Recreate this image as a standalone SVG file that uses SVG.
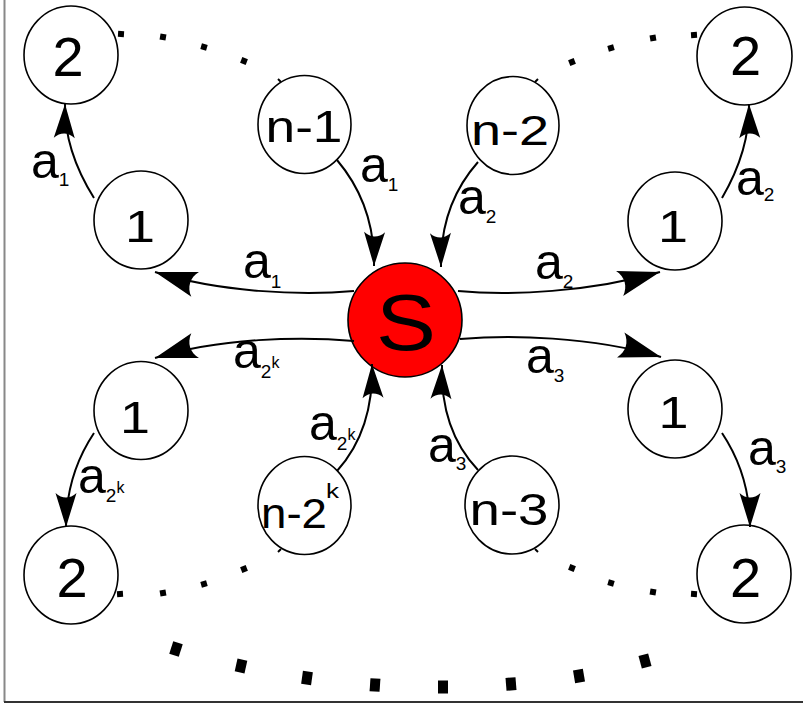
<svg xmlns="http://www.w3.org/2000/svg" width="803" height="706" viewBox="0 0 803 706">
  <style>
    .node { fill: #ffffff; stroke: #000000; stroke-width: 1.6; }
    .src { fill: #ff0000; stroke: #000000; stroke-width: 1.6; }
    .nt { font-family: "Liberation Sans", Arial, sans-serif; fill: #000; text-anchor: middle; }
    .edge { fill: none; stroke: #000; stroke-width: 2; }
    .big { marker-end: url(#arrL); }
    .sm { marker-end: url(#arrS); }
    .lab { font-family: "Liberation Sans", Arial, sans-serif; font-size: 50px; fill: #000; }
    .sub { font-size: 19px; }
    .sup { font-size: 16px; }
    .dot { fill: #000; }
    .bdot { fill: #000; }
  </style>
  <defs>
    <marker id="arrL" markerUnits="userSpaceOnUse" orient="auto" refX="0" refY="0" markerWidth="1" markerHeight="1" overflow="visible">
      <path d="M0,0 L-42,-13 C-35,-5 -35,5 -42,13 Z" fill="#000"/>
    </marker>
    <marker id="arrS" markerUnits="userSpaceOnUse" orient="auto" refX="0" refY="0" markerWidth="1" markerHeight="1" overflow="visible">
      <path d="M0,0 L-34,-10.5 C-28,-4 -28,4 -34,10.5 Z" fill="#000"/>
    </marker>
    <rect id="sq" x="-3" y="-3" width="6" height="6"/>
    <rect id="bsq" x="-5" y="-6.5" width="10" height="13"/>
  </defs>

  <!-- frame -->
  <line x1="4.5" y1="0" x2="4.5" y2="702" stroke="#888" stroke-width="2"/>
  <line x1="4" y1="702" x2="803" y2="702" stroke="#333" stroke-width="2"/>

  <!-- dotted arcs -->
  <g id="dots">
    <use href="#sq" class="dot" transform="translate(121,34) rotate(4)"/>
    <use href="#sq" class="dot" transform="translate(163,37) rotate(10)"/>
    <use href="#sq" class="dot" transform="translate(204,47) rotate(16)"/>
    <use href="#sq" class="dot" transform="translate(244,61) rotate(22)"/>
    <path d="M278,79 L281,82" stroke="#000" stroke-width="2"/>

    <use href="#sq" class="dot" transform="translate(572,62) rotate(-22)"/>
    <use href="#sq" class="dot" transform="translate(611,48) rotate(-16)"/>
    <use href="#sq" class="dot" transform="translate(653,38) rotate(-10)"/>
    <use href="#sq" class="dot" transform="translate(694,35) rotate(-4)"/>
    <path d="M538,79 L535,82" stroke="#000" stroke-width="2"/>

    <use href="#sq" class="dot" transform="translate(120,594) rotate(-4)"/>
    <use href="#sq" class="dot" transform="translate(163,593) rotate(-10)"/>
    <use href="#sq" class="dot" transform="translate(204,584) rotate(-16)"/>
    <use href="#sq" class="dot" transform="translate(244,569) rotate(-22)"/>
    <path d="M278,552 L281,549" stroke="#000" stroke-width="2"/>

    <use href="#sq" class="dot" transform="translate(572,568) rotate(22)"/>
    <use href="#sq" class="dot" transform="translate(611,583) rotate(16)"/>
    <use href="#sq" class="dot" transform="translate(653,592) rotate(10)"/>
    <use href="#sq" class="dot" transform="translate(694,594) rotate(4)"/>
    <path d="M538,552 L535,549" stroke="#000" stroke-width="2"/>

    <use href="#bsq" class="bdot" transform="translate(176,649) rotate(18)"/>
    <use href="#bsq" class="bdot" transform="translate(241,666) rotate(12.5)"/>
    <use href="#bsq" class="bdot" transform="translate(307,678) rotate(8)"/>
    <use href="#bsq" class="bdot" transform="translate(375,685) rotate(4)"/>
    <use href="#bsq" class="bdot" transform="translate(443,687) rotate(0)"/>
    <use href="#bsq" class="bdot" transform="translate(511,684) rotate(-4.5)"/>
    <use href="#bsq" class="bdot" transform="translate(579,676) rotate(-9.5)"/>
    <use href="#bsq" class="bdot" transform="translate(645,661) rotate(-15)"/>
  </g>

  <!-- nodes -->
  <g id="node-tl2">
    <ellipse class="node" cx="71" cy="55" rx="47" ry="49"/>
    <text class="nt" x="68" y="76" font-size="56">2</text>
  </g>
  <g id="node-tl1">
    <ellipse class="node" cx="141" cy="220" rx="47" ry="49"/>
    <text class="nt" x="140" y="242" font-size="45" textLength="30" lengthAdjust="spacingAndGlyphs">1</text>
  </g>
  <g id="node-n1">
    <ellipse class="node" cx="304.5" cy="124.5" rx="46.5" ry="49"/>
    <text class="nt" x="304" y="142" font-size="44" textLength="77" lengthAdjust="spacingAndGlyphs">n-1</text>
  </g>
  <g id="node-n2">
    <ellipse class="node" cx="513" cy="125.5" rx="46" ry="49"/>
    <text class="nt" x="510" y="145" font-size="42" textLength="78" lengthAdjust="spacingAndGlyphs">n-2</text>
  </g>
  <g id="node-tr2">
    <ellipse class="node" cx="744.5" cy="56" rx="47.5" ry="49"/>
    <text class="nt" x="745.5" y="75" font-size="56">2</text>
  </g>
  <g id="node-tr1">
    <ellipse class="node" cx="675" cy="221" rx="47" ry="49"/>
    <text class="nt" x="673" y="242" font-size="45" textLength="30" lengthAdjust="spacingAndGlyphs">1</text>
  </g>
  <g id="node-s">
    <circle class="src" cx="405" cy="320" r="57"/>
    <text class="nt" x="406" y="350" font-size="80" textLength="60" lengthAdjust="spacingAndGlyphs">S</text>
  </g>
  <g id="node-bl1">
    <ellipse class="node" cx="141" cy="410.5" rx="47" ry="49"/>
    <text class="nt" x="135" y="433" font-size="45" textLength="30" lengthAdjust="spacingAndGlyphs">1</text>
  </g>
  <g id="node-n2k">
    <ellipse class="node" cx="304.5" cy="505.5" rx="46.5" ry="49"/>
    <text class="nt" x="261" y="528" font-size="42" textLength="66" lengthAdjust="spacingAndGlyphs" style="text-anchor:start">n-2</text>
    <text class="nt" x="326" y="498" font-size="20" textLength="13" lengthAdjust="spacingAndGlyphs" style="text-anchor:start">k</text>
  </g>
  <g id="node-bl2">
    <ellipse class="node" cx="71" cy="575" rx="47" ry="49"/>
    <text class="nt" x="72" y="597" font-size="56">2</text>
  </g>
  <g id="node-n3">
    <ellipse class="node" cx="512" cy="505" rx="47" ry="49"/>
    <text class="nt" x="509" y="525" font-size="45" textLength="79" lengthAdjust="spacingAndGlyphs">n-3</text>
  </g>
  <g id="node-br1">
    <ellipse class="node" cx="675" cy="409" rx="47" ry="49"/>
    <text class="nt" x="673.5" y="428" font-size="45" textLength="30" lengthAdjust="spacingAndGlyphs">1</text>
  </g>
  <g id="node-br2">
    <ellipse class="node" cx="744" cy="574" rx="47" ry="49"/>
    <text class="nt" x="745.5" y="597" font-size="56">2</text>
  </g>

  <!-- connectors -->
  <g id="connectors">
    <path class="edge sm" d="M94,198 Q64,150 65,104"/>
    <text class="lab" x="31" y="178">a<tspan class="sub" dy="8">1</tspan></text>

    <path class="edge sm" d="M337,160 Q375,205 374,266"/>
    <text class="lab" x="360" y="182">a<tspan class="sub" dy="9">1</tspan></text>

    <path class="edge big" d="M354,291 C300,296 220,292 155,272"/>
    <text class="lab" x="243" y="278">a<tspan class="sub" dy="10">1</tspan></text>

    <path class="edge sm" d="M478,162 Q440,205 441,267"/>
    <text class="lab" x="458" y="214">a<tspan class="sub" dy="9">2</tspan></text>

    <path class="edge big" d="M458,291 C510,296 590,292 660,272"/>
    <text class="lab" x="535" y="279">a<tspan class="sub" dy="9">2</tspan></text>

    <path class="edge sm" d="M722,198 Q750,150 749,104"/>
    <text class="lab" x="736" y="195">a<tspan class="sub" dy="6">2</tspan></text>

    <path class="edge big" d="M354,341 C300,336 220,338 155,358"/>
    <text class="lab" x="233" y="368">a<tspan class="sub" dy="10">2</tspan><tspan class="sup" dy="-10">k</tspan></text>

    <path class="edge sm" d="M94,433 Q66,475 66,527"/>
    <text class="lab" x="78" y="493">a<tspan class="sub" dy="9">2</tspan><tspan class="sup" dy="-9">k</tspan></text>

    <path class="edge sm" d="M337,471 Q374,430 372,364"/>
    <text class="lab" x="309" y="440">a<tspan class="sub" dy="10">2</tspan><tspan class="sup" dy="-10">k</tspan></text>

    <path class="edge sm" d="M478,470 Q440,430 442,365"/>
    <text class="lab" x="428" y="462">a<tspan class="sub" dy="8">3</tspan></text>

    <path class="edge big" d="M460,339 C510,335 590,336 661,357"/>
    <text class="lab" x="526" y="373">a<tspan class="sub" dy="9">3</tspan></text>

    <path class="edge sm" d="M722,433 Q750,475 750,527"/>
    <text class="lab" x="748" y="465">a<tspan class="sub" dy="8">3</tspan></text>
  </g>
</svg>
